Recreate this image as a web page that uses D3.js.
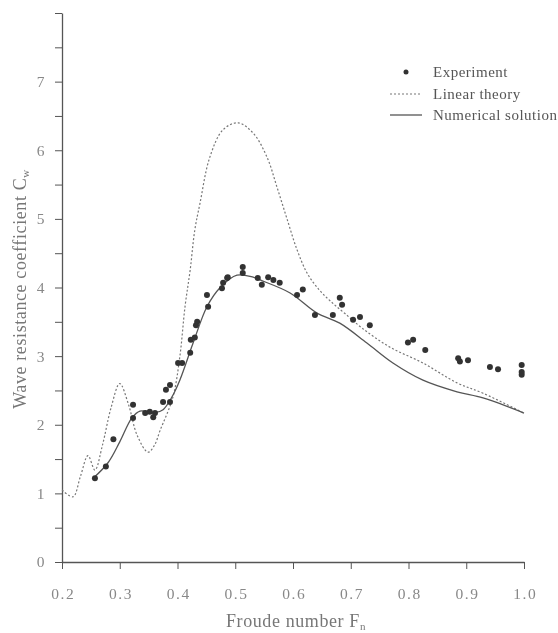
<!DOCTYPE html>
<html>
<head>
<meta charset="utf-8">
<script src="https://cdn.jsdelivr.net/npm/d3@7"></script>
<style>
  body { margin: 0; background: #fff; }
  svg { display: block; font-family: "Liberation Serif", "DejaVu Serif", serif; }
</style>
</head>
<body>
<svg width="558" height="633"></svg>
<script>
// Froude number / wave resistance coefficient
const expFr = [0.257, 0.276, 0.289, 0.323, 0.323, 0.344, 0.352, 0.358, 0.361, 0.375, 0.380, 0.387, 0.387,
               0.401, 0.408, 0.422, 0.423, 0.430, 0.432, 0.434, 0.451, 0.453, 0.477, 0.479, 0.486, 0.487,
               0.513, 0.513, 0.539, 0.546, 0.557, 0.566, 0.577, 0.607, 0.617, 0.638, 0.669, 0.681, 0.685,
               0.704, 0.716, 0.733, 0.799, 0.808, 0.829, 0.886, 0.889, 0.903, 0.941, 0.955, 0.996, 0.996, 0.996];
const expCw = [1.22, 1.39, 1.79, 2.29, 2.10, 2.17, 2.19, 2.11, 2.17, 2.33, 2.51, 2.58, 2.33,
               2.90, 2.90, 3.05, 3.24, 3.27, 3.45, 3.50, 3.89, 3.72, 3.99, 4.07, 4.14, 4.15,
               4.30, 4.21, 4.14, 4.04, 4.15, 4.11, 4.07, 3.89, 3.97, 3.60, 3.60, 3.85, 3.75,
               3.53, 3.57, 3.45, 3.20, 3.24, 3.09, 2.97, 2.92, 2.94, 2.84, 2.81, 2.87, 2.77, 2.73];

const linFr = [0.200, 0.219, 0.232, 0.245, 0.257, 0.270, 0.285, 0.300, 0.315, 0.330, 0.349, 0.360, 0.370,
               0.392, 0.404, 0.413, 0.422, 0.430, 0.439, 0.456, 0.479, 0.505, 0.531, 0.555, 0.572, 0.590,
               0.607, 0.625, 0.645, 0.665, 0.690, 0.721, 0.768, 0.825, 0.884, 0.929, 1.000];
const linCw = [1.05, 0.95, 1.25, 1.55, 1.34, 1.70, 2.25, 2.60, 2.30, 1.85, 1.60, 1.70, 1.92,
               2.40, 2.99, 3.72, 4.26, 4.84, 5.23, 5.90, 6.30, 6.40, 6.25, 5.90, 5.47, 4.99,
               4.55, 4.20, 3.97, 3.80, 3.62, 3.40, 3.13, 2.90, 2.61, 2.46, 2.17];

const numFr = [0.254, 0.280, 0.300, 0.321, 0.335, 0.349, 0.362, 0.375, 0.390, 0.404, 0.427, 0.451, 0.474,
               0.503, 0.531, 0.543, 0.595, 0.641, 0.681, 0.728, 0.773, 0.825, 0.884, 0.929, 1.000];
const numCw = [1.22, 1.45, 1.75, 2.10, 2.20, 2.19, 2.18, 2.22, 2.40, 2.65, 3.19, 3.72, 4.00,
               4.18, 4.15, 4.11, 3.92, 3.63, 3.48, 3.19, 2.90, 2.65, 2.48, 2.39, 2.17];

const xTicks = [0.2, 0.3, 0.4, 0.5, 0.6, 0.7, 0.8, 0.9, 1.0];
const yTicks = [0, 0.5, 1, 1.5, 2, 2.5, 3, 3.5, 4, 4.5, 5, 5.5, 6, 6.5, 7, 7.5, 8];
const legendLabels = ["Experiment", "Linear theory", "Numerical solution"];

const svg = d3.select("svg");

svg.append("defs").append("filter")
    .attr("id", "soft")
    .append("feGaussianBlur")
    .attr("stdDeviation", 0.5);

const g = svg.append("g").attr("filter", "url(#soft)");

const x = d3.scaleLinear().domain([0.2, 1.0]).range([62, 524]);
const y = d3.scaleLinear().domain([0, 8]).range([562, 13]);

const ink = "#555";

// axes
const xAxis = g.append("g")
    .attr("transform", `translate(0,${y(0)})`)
    .call(d3.axisBottom(x).tickValues(xTicks).tickFormat(d3.format(".1f"))
        .tickSize(7).tickSizeOuter(0).tickPadding(19));

const yAxis = g.append("g")
    .attr("transform", `translate(${x(0.2)},0)`)
    .call(d3.axisLeft(y).tickValues(yTicks)
        .tickFormat(d => (Number.isInteger(d) && d < 8) ? d : "")
        .tickSize(7).tickSizeOuter(0).tickPadding(9));

[xAxis, yAxis].forEach(a => {
    a.attr("font-family", null).attr("font-size", 15.5);
    a.select(".domain").attr("stroke", ink).attr("stroke-width", 1.3);
    a.selectAll(".tick line").attr("stroke", ink).attr("stroke-width", 1);
    a.selectAll(".tick text").attr("fill", "#888").attr("letter-spacing", 1.5);
});
xAxis.selectAll(".tick text").attr("dx", 0.75);

// axis titles
g.append("text")
    .attr("x", 296).attr("y", 627)
    .attr("text-anchor", "middle")
    .attr("font-size", 18).attr("letter-spacing", 0.6).attr("fill", "#777")
    .text("Froude number F")
    .append("tspan").attr("font-size", 11).attr("dy", 3).text("n");

g.append("text")
    .attr("transform", "translate(26,289) rotate(-90)")
    .attr("text-anchor", "middle")
    .attr("font-size", 18).attr("letter-spacing", 0.6).attr("fill", "#777")
    .text("Wave resistance coefficient C")
    .append("tspan").attr("font-size", 11).attr("dy", 3).text("w");

// curves
const line = d3.line()
    .x(d => x(d[0]))
    .y(d => y(d[1]))
    .curve(d3.curveCatmullRom.alpha(0.5));

g.append("path")
    .datum(d3.zip(linFr, linCw))
    .attr("fill", "none")
    .attr("stroke", "#777")
    .attr("stroke-width", 1.2)
    .attr("stroke-dasharray", "2,2")
    .attr("d", line);

g.append("path")
    .datum(d3.zip(numFr, numCw))
    .attr("fill", "none")
    .attr("stroke", "#555")
    .attr("stroke-width", 1.3)
    .attr("d", line);

g.append("g")
    .selectAll("circle")
    .data(d3.zip(expFr, expCw))
    .join("circle")
    .attr("cx", d => x(d[0]))
    .attr("cy", d => y(d[1]))
    .attr("r", 3)
    .attr("fill", "#333");

// legend
const legend = g.append("g").attr("font-size", 15).attr("letter-spacing", 0.5).attr("fill", "#555");
const rowY = [72, 94, 115];

legend.append("circle").attr("cx", 406).attr("cy", rowY[0]).attr("r", 2.5).attr("fill", "#333");
legend.append("line").attr("x1", 390).attr("x2", 422).attr("y1", rowY[1]).attr("y2", rowY[1])
    .attr("stroke", "#777").attr("stroke-width", 1.2).attr("stroke-dasharray", "2,2");
legend.append("line").attr("x1", 390).attr("x2", 422).attr("y1", rowY[2]).attr("y2", rowY[2])
    .attr("stroke", "#555").attr("stroke-width", 1.3);

legend.selectAll("text")
    .data(legendLabels)
    .join("text")
    .attr("x", 433)
    .attr("y", (d, i) => rowY[i])
    .attr("dy", "0.35em")
    .text(d => d);
</script>
</body>
</html>
